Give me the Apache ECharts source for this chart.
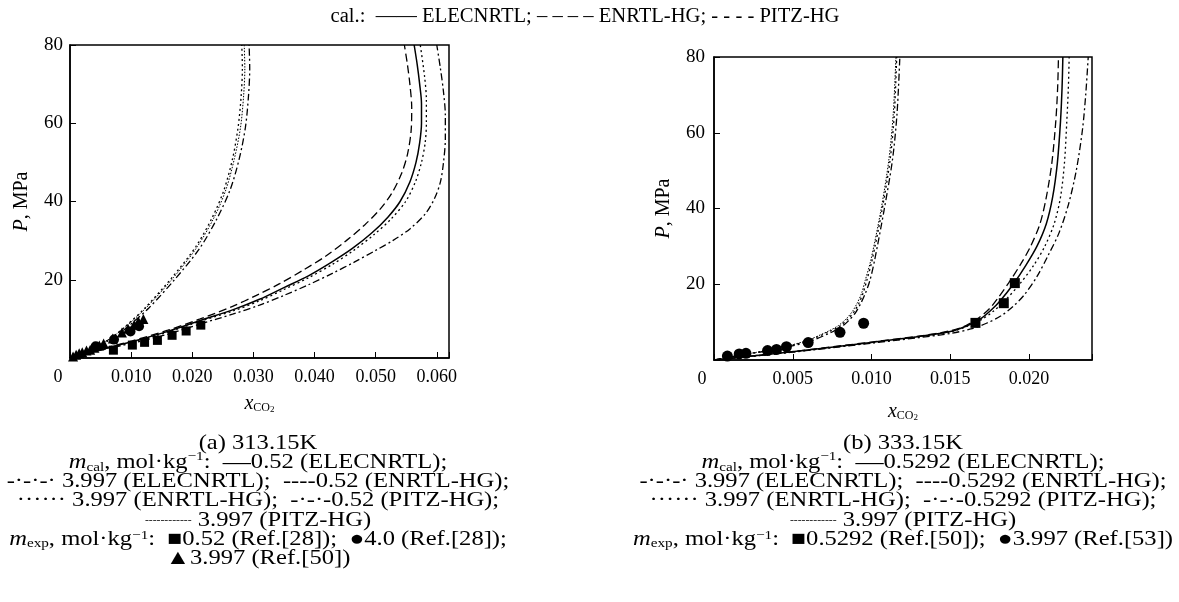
<!DOCTYPE html>
<html>
<head>
<meta charset="utf-8">
<script src="https://cdn.jsdelivr.net/npm/echarts@6/dist/echarts.min.js"></script>
<style>
  html, body { margin: 0; padding: 0; background: #fff; }
  #chart { width: 1179px; height: 602px; }
</style>
</head>
<body>
<div id="chart"></div>
<script>
// ---- (a) 313.15 K : [x_CO2, P/MPa] ----
const a_elec_052 = [[0,0],[0.0047,2.0],[0.0102,4.2],[0.0160,6.8],[0.0213,9.6],[0.0266,12.3],[0.0310,15],[0.0350,18],[0.0390,21],[0.0428,24.5],[0.0462,28],[0.0494,32],[0.0520,36],[0.0540,40],[0.0556,45],[0.0566,50],[0.0572,55],[0.0575,60],[0.0575,65],[0.0572,70],[0.0568,75],[0.0563,80]]
const a_enrtl_052 = [[0,0],[0.0047,2.1],[0.0102,4.4],[0.0160,7.1],[0.0213,10.0],[0.0266,13.2],[0.0305,16],[0.0343,19],[0.0382,22.5],[0.0418,26],[0.0452,30],[0.0482,34],[0.0507,38],[0.0526,42],[0.0542,47],[0.0552,52],[0.0558,58],[0.0559,64],[0.0556,70],[0.0552,75],[0.0547,80]]
const a_pitz_052 = [[0,0],[0.0047,1.9],[0.0102,3.8],[0.0160,6.1],[0.0213,8.7],[0.0266,11.2],[0.0310,13.5],[0.0350,16],[0.0390,18.7],[0.0430,21.7],[0.0465,24.5],[0.0500,27.5],[0.0528,30],[0.0556,33],[0.0582,37],[0.0597,41],[0.0606,45],[0.0611,50],[0.0614,56],[0.0614,62],[0.0611,68],[0.0606,74],[0.0600,80]]
const a_dot_052 = [[0,0],[0.0047,2.0],[0.0102,4.1],[0.0160,6.6],[0.0213,9.4],[0.0266,12.0],[0.0310,14.6],[0.0350,17.5],[0.0390,20.5],[0.0430,24],[0.0464,27.5],[0.0497,31.5],[0.0525,35.5],[0.0549,40],[0.0565,45],[0.0575,50],[0.0581,55],[0.0583,60],[0.0583,66],[0.0580,72],[0.0573,80]]
const a_elec_3997 = [[0,0],[0.0020,1.2],[0.0042,2.8],[0.0066,4.7],[0.0093,7.8],[0.0129,12.8],[0.0172,20.2],[0.0212,28],[0.0240,35.5],[0.0262,43],[0.0277,51],[0.0287,59],[0.0292,67],[0.0294,74],[0.0293,80]]
const a_enrtl_3997 = [[0,0],[0.0020,1.3],[0.0040,2.8],[0.0064,4.8],[0.0090,8.0],[0.0124,13.0],[0.0167,20.6],[0.0206,28.5],[0.0233,36],[0.0252,43],[0.0266,51],[0.0275,59],[0.0280,67],[0.0282,74],[0.0281,80]]
const a_pitz_3997 = [[0,0],[0.0020,1.3],[0.0040,2.8],[0.0064,4.8],[0.0091,8.0],[0.0125,12.9],[0.0169,20.5],[0.0208,28.4],[0.0236,36],[0.0255,43],[0.0269,51],[0.0279,59],[0.0284,67],[0.0286,74],[0.0285,80]]
const a_exp_sq = [[0.0071,2.0],[0.0102,3.3],[0.0122,4.0],[0.0143,4.5],[0.0167,5.8],[0.0190,6.9],[0.0214,8.4]]
const a_exp_ci = [[0.0042,3.0],[0.0072,4.7],[0.0099,6.8],[0.0113,8.1]]
const a_exp_tr = [[0.0005,0.4],[0.0010,0.8],[0.0015,1.2],[0.0020,1.5],[0.0027,1.9],[0.0033,2.1],[0.0040,2.6],[0.0048,3.2],[0.0055,3.7],[0.0070,5.0],[0.0085,6.5],[0.0095,7.5],[0.0105,8.5],[0.0112,9.3],[0.0120,10.0]]

// ---- (b) 333.15 K ----
const b_elec_05292 = [[0,0],[0.00483,2.1],[0.0101,4.7],[0.0130,6.2],[0.0150,7.5],[0.0160,8.9],[0.0169,10.8],[0.0176,13.2],[0.0182,15.8],[0.0190,20],[0.0198,25],[0.0205,30],[0.0211,36],[0.0215,43],[0.0218,52],[0.0220,63],[0.0221,72],[0.02215,80]]
const b_enrtl_05292 = [[0,0],[0.00483,2.15],[0.0101,4.8],[0.0130,6.3],[0.0150,7.7],[0.0160,9.1],[0.0168,11.1],[0.0175,13.6],[0.0180,16.2],[0.0187,20.3],[0.0195,25.5],[0.0201,30],[0.0207,36],[0.0211,43],[0.02145,52],[0.0217,63],[0.02182,72],[0.02187,80]]
const b_dot_05292 = [[0,0],[0.00483,2.05],[0.0101,4.6],[0.0130,6.1],[0.0150,7.4],[0.0160,8.8],[0.0170,10.7],[0.0178,13.1],[0.0185,15.8],[0.0194,20],[0.0203,25],[0.0210,30],[0.0216,36],[0.0220,43],[0.02225,52],[0.0224,63],[0.0225,72],[0.02255,80]]
const b_pitz_05292 = [[0,0],[0.00483,2.0],[0.0101,4.5],[0.0130,5.9],[0.0150,7.0],[0.0163,8.2],[0.0173,9.7],[0.0182,11.6],[0.0190,14.2],[0.0197,17.2],[0.0205,22],[0.0212,27.5],[0.0219,33.5],[0.0225,41],[0.0230,50],[0.0234,61],[0.0236,70],[0.02376,80]]
const b_elec_3997 = [[0,0],[0.00165,1.25],[0.00378,2.7],[0.0060,4.8],[0.0075,7.4],[0.0081,8.8],[0.0086,10.6],[0.0090,12.6],[0.0093,14.8],[0.0096,17.5],[0.0099,21],[0.0102,26.4],[0.0108,39.6],[0.01133,52.8],[0.01162,65],[0.01180,80]]
const b_enrtl_3997 = [[0,0],[0.00165,1.3],[0.00375,2.8],[0.0059,5.0],[0.00737,7.6],[0.0080,9.0],[0.0085,10.8],[0.0089,12.8],[0.0092,15],[0.00945,17.5],[0.0097,21],[0.01004,26.4],[0.01067,39.6],[0.01118,52.8],[0.01145,65],[0.01160,80]]
const b_pitz_3997 = [[0,0],[0.00165,1.3],[0.00372,2.8],[0.0058,5.0],[0.00730,7.7],[0.0079,9.1],[0.0084,10.9],[0.0088,12.9],[0.0091,15.1],[0.00937,17.6],[0.0096,21],[0.00996,26.4],[0.0106,39.6],[0.0111,52.8],[0.01138,65],[0.01155,80]]
const b_exp_sq = [[0.0166,9.8],[0.0184,15.0],[0.0191,20.3]]
const b_exp_ci = [[0.00085,1.05],[0.0016,1.6],[0.00203,1.76],[0.0034,2.5],[0.00397,2.8],[0.0046,3.5],[0.00598,4.6],[0.0080,7.3],[0.0095,9.7]]

// ---- text ----
const topLegend = 'cal.:  —— ELECNRTL; – – – – ENRTL-HG; - - - - PITZ-HG'
const captionA = [
  '(a) 313.15K',
  '{i|m}{sub|cal}, mol·kg{sup|−1}:  {ln|—}0.52 (ELECNRTL);',
  '-·-·-· 3.997 (ELECNRTL);  ----0.52 (ENRTL-HG);',
  '······ 3.997 (ENRTL-HG);  -·-·-0.52 (PITZ-HG);',
  '{fd|------------} 3.997 (PITZ-HG)',
  '{i|m}{sub|exp}, mol·kg{sup|−1}:  ■0.52 (Ref.[28]);  ●4.0 (Ref.[28]);',
  '▲3.997 (Ref.[50])'
]
const captionB = [
  '(b) 333.15K',
  '{i|m}{sub|cal}, mol·kg{sup|−1}:  {ln|—}0.5292 (ELECNRTL);',
  '-·-·-· 3.997 (ELECNRTL);  ----0.5292 (ENRTL-HG);',
  '······ 3.997 (ENRTL-HG);  -·-·-0.5292 (PITZ-HG);',
  '{fd|------------} 3.997 (PITZ-HG)',
  '{i|m}{sub|exp}, mol·kg{sup|−1}:  ■0.5292 (Ref.[50]);  ●3.997 (Ref.[53])'
]

const FONT = 'Liberation Serif, Times New Roman, serif'
const richText = {
  i: { fontStyle: 'italic', fontSize: 21, fontFamily: FONT },
  sub: { fontSize: 13, fontFamily: FONT, verticalAlign: 'bottom', padding: [6, 0, 0, 0] },
  sup: { fontSize: 13, fontFamily: FONT, verticalAlign: 'top' },
  fd: { fontSize: 10, fontFamily: FONT },
  ln: { fontSize: 24, fontFamily: FONT }
}

function captionGraphics(lines, cx) {
  return lines.map((t, i) => ({
    type: 'text',
    silent: true,
    x: cx, y: 443 + i * 19.3,
    scaleX: 1.17, scaleY: 1,
    style: {
      text: t, x: 0, y: 0,
      align: 'center', verticalAlign: 'middle',
      fontSize: 21, fontFamily: FONT, fill: '#000', rich: richText
    }
  }))
}

function xLabel(step) {
  return (v) => {
    if (v === 0) return '{z|0}'
    if (Math.abs(v / step - Math.round(v / step)) > 1e-6) return ''
    return v.toFixed(3)
  }
}

function xAxisCfg(idx, max, step, gap) {
  return {
    type: 'value', gridIndex: idx, min: 0, max: max, interval: step,
    axisLine: { show: true, lineStyle: { color: '#000', width: 1.5 } },
    axisTick: { show: true, inside: true, length: 6, lineStyle: { color: '#000', width: 1 } },
    splitLine: { show: false },
    showMaxLabel: false,
    axisLabel: {
      margin: 10, color: '#000', fontSize: 18, fontFamily: FONT,
      formatter: xLabel(step),
      rich: { z: { fontSize: 18, fontFamily: FONT, padding: [0, 24, 0, 0] } }
    },
    name: '{i|x}{s|CO}{t|2}', nameLocation: 'middle', nameGap: gap,
    nameTextStyle: {
      rich: {
        i: { fontStyle: 'italic', fontSize: 20, fontFamily: FONT, color: '#000' },
        s: { fontSize: 12, fontFamily: FONT, color: '#000', verticalAlign: 'bottom' },
        t: { fontSize: 9, fontFamily: FONT, color: '#000', verticalAlign: 'bottom', padding: [4, 0, 0, 0] }
      }
    }
  }
}

function yAxisCfg(idx, gap, margin) {
  return {
    type: 'value', gridIndex: idx, min: 0, max: 80, interval: 20,
    axisLine: { show: true, lineStyle: { color: '#000', width: 1.5 } },
    axisTick: { show: true, inside: true, length: 6, lineStyle: { color: '#000', width: 1 } },
    splitLine: { show: false },
    axisLabel: {
      margin: margin, color: '#000', fontSize: 19, fontFamily: FONT,
      formatter: (v) => (v === 0 ? '' : String(v))
    },
    name: '{i|P}, MPa', nameLocation: 'middle', nameRotate: 90, nameGap: gap,
    nameTextStyle: {
      fontSize: 20, fontFamily: FONT, color: '#000',
      rich: { i: { fontStyle: 'italic', fontSize: 20, fontFamily: FONT, color: '#000' } }
    }
  }
}

function curve(data, g, dash, w) {
  return {
    type: 'line', data: data, xAxisIndex: g, yAxisIndex: g,
    showSymbol: false, smooth: 0.3, silent: true, animation: false,
    lineStyle: { color: '#000', width: w || 1.3, type: dash }
  }
}

function points(data, g, symbol, size) {
  return {
    type: 'scatter', data: data, xAxisIndex: g, yAxisIndex: g,
    symbol: symbol, symbolSize: size, silent: true, animation: false,
    itemStyle: { color: '#000', opacity: 1 }, z: 5
  }
}

const DASH = [8, 4]
const DASHDOT = [7, 3, 2, 3]
const DOT = [2, 3]
const FINEDOT = [1.5, 1.5]

const chart = echarts.init(document.getElementById('chart'), null, { renderer: 'canvas' })
chart.setOption({
  animation: false,
  backgroundColor: '#fff',
  textStyle: { fontFamily: FONT, color: '#000' },
  grid: [
    { left: 70, top: 45, width: 379, height: 313, show: true, borderColor: '#000', borderWidth: 1.5, outerBoundsMode: 'none' },
    { left: 714, top: 57, width: 378, height: 303, show: true, borderColor: '#000', borderWidth: 1.5, outerBoundsMode: 'none' }
  ],
  xAxis: [xAxisCfg(0, 0.062, 0.01, 36), xAxisCfg(1, 0.024, 0.005, 42)],
  yAxis: [yAxisCfg(0, 38, 7), yAxisCfg(1, 40, 9)],
  series: [
    curve(a_elec_052, 0, 'solid', 1.5),
    curve(a_enrtl_052, 0, DASH),
    curve(a_pitz_052, 0, DASHDOT),
    curve(a_dot_052, 0, DOT),
    curve(a_elec_3997, 0, DASHDOT),
    curve(a_enrtl_3997, 0, DOT),
    curve(a_pitz_3997, 0, FINEDOT, 1),
    points(a_exp_sq, 0, 'rect', 9),
    points(a_exp_ci, 0, 'circle', 10),
    points(a_exp_tr, 0, 'triangle', 10),
    curve(b_elec_05292, 1, 'solid', 1.5),
    curve(b_enrtl_05292, 1, DASH),
    curve(b_dot_05292, 1, DOT),
    curve(b_pitz_05292, 1, DASHDOT),
    curve(b_elec_3997, 1, DASHDOT),
    curve(b_enrtl_3997, 1, DOT),
    curve(b_pitz_3997, 1, FINEDOT, 1),
    points(b_exp_sq, 1, 'rect', 10),
    points(b_exp_ci, 1, 'circle', 11)
  ],
  graphic: [
    {
      type: 'text', silent: true,
      x: 585, y: 17, scaleX: 1.03, scaleY: 1,
      style: { text: topLegend, x: 0, y: 0, align: 'center', verticalAlign: 'middle', fontSize: 20, fontFamily: FONT, fill: '#000' }
    }
  ].concat(captionGraphics(captionA, 258), captionGraphics(captionB, 903))
})
</script>
</body>
</html>
